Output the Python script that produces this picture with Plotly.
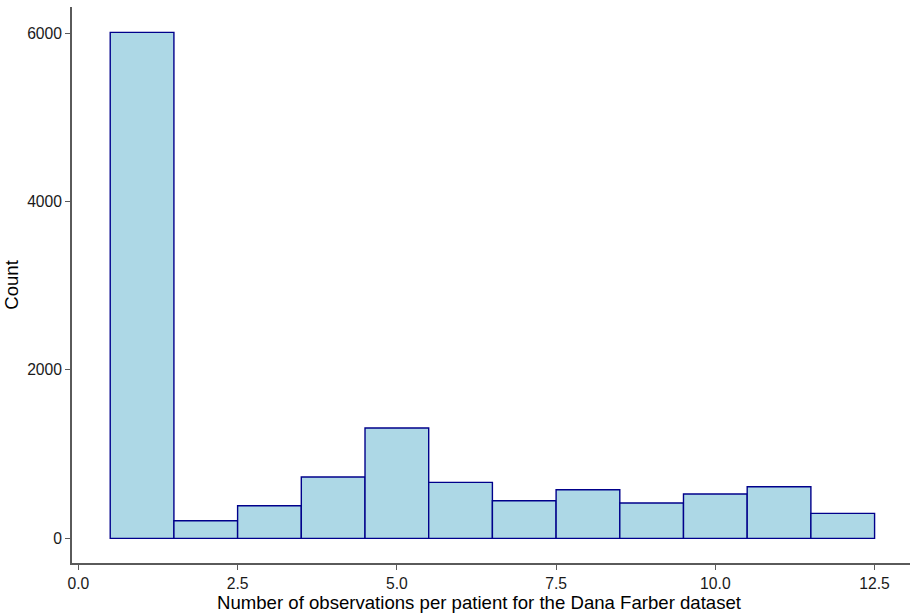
import plotly.graph_objects as go

obs_per_patient = [1, 2, 3, 4, 5, 6, 7, 8, 9, 10, 11, 12]
counts = [6010, 209, 387, 728, 1310, 665, 447, 577, 419, 526, 613, 297]
x_ticks = [0.0, 2.5, 5.0, 7.5, 10.0, 12.5]
y_ticks = [0, 2000, 4000, 6000]

fig = go.Figure()
fig.add_trace(go.Bar(
    x=obs_per_patient, y=counts, width=1,
    marker=dict(color="#ADD8E6", line=dict(color="#00008B", width=1.4)),
))

axis_common = dict(
    showgrid=False, zeroline=False, showline=True,
    linecolor="#5a5a5a", linewidth=1.6,
    ticks="outside", ticklen=5, tickwidth=1.3, tickcolor="#5a5a5a",
    tickfont=dict(family="Liberation Sans, Arial", size=15.7, color="#1a1a1a"),
)

fig.update_layout(
    width=910, height=615,
    margin=dict(l=72, r=0, t=7, b=52),
    paper_bgcolor="white", plot_bgcolor="white",
    showlegend=False,
    font=dict(family="Liberation Sans, Arial", color="#000000"),
    xaxis=dict(range=[-0.1, 13.056], tickvals=x_ticks,
               ticktext=[f"{v:.1f}" for v in x_ticks], **axis_common),
    yaxis=dict(range=[-293, 6312], tickvals=y_ticks,
               ticktext=[str(v) for v in y_ticks],
               title=dict(text="Count", font=dict(size=18.6), standoff=4),
               **axis_common),
    annotations=[dict(
        text="Number of observations per patient for the Dana Farber dataset",
        xref="paper", yref="paper", x=(479.5 - 72) / 838, y=0,
        yshift=-39.5, xanchor="center", yanchor="middle", showarrow=False,
        font=dict(family="Liberation Sans, Arial", size=18.6, color="#000000"),
    )],
)

fig.write_html("out.html")
